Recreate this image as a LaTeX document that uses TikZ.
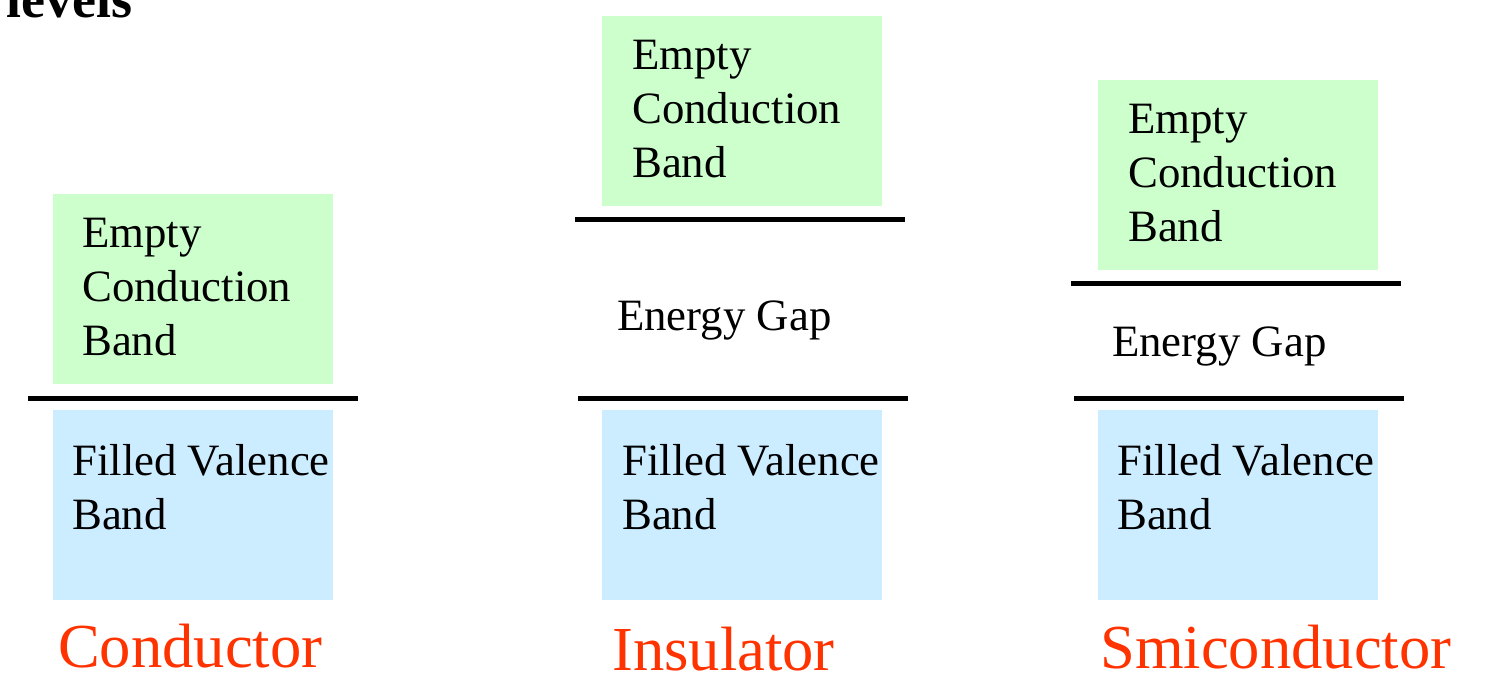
\documentclass[tikz,border=0pt]{standalone}
\usepackage{fontspec}
\setmainfont{Liberation Serif}
\usetikzlibrary{positioning}
\definecolor{condfill}{HTML}{CCFFCC}
\definecolor{valfill}{HTML}{CCECFF}
\definecolor{kindred}{HTML}{FF3300}
\tikzset{
  condband/.style = {rectangle, fill=condfill, minimum width=280pt, minimum height=190pt, inner sep=0pt},
  valband/.style  = {rectangle, fill=valfill, minimum width=280pt, minimum height=190pt, inner sep=0pt},
  bandtxt/.style  = {font=\fontsize{44.8}{54}\selectfont, align=left, inner sep=0pt, anchor=base west},
  kind/.style     = {font=\fontsize{62.6}{74}\selectfont, text=kindred, inner sep=0pt, anchor=base west},
  level/.style    = {line width=5pt},
}

\begin{document}
\begin{tikzpicture}[x=1pt, y=-1pt]
        \useasboundingbox (0,0) rectangle (1506,694);
        \node[font=\fontsize{54}{60}\selectfont\bfseries, inner sep=0pt, anchor=base west] (title) at (6,17) {levels};
        % conductor
        \node[condband] (ccond) at (193,289) {};
        \node[bandtxt] (ccondtxt) at (82,355) {Empty\\Conduction\\Band};
        \draw[level] (28,398) -- (358,398);
        \node[valband] (cval) at (193,505) {};
        \node[bandtxt] (cvaltxt) at (72,529) {Filled Valence\\Band};
        \node[kind] (ckind) at (58,667) {Conductor};
        % insulator
        \node[condband] (icond) at (742,111) {};
        \node[bandtxt] (icondtxt) at (632,177) {Empty\\Conduction\\Band};
        \draw[level] (575,219) -- (905,219);
        \node[bandtxt] (igap) at (617,330) {Energy Gap};
        \draw[level] (578,398) -- (908,398);
        \node[valband] (ival) at (742,505) {};
        \node[bandtxt] (ivaltxt) at (622,529) {Filled Valence\\Band};
        \node[kind] (ikind) at (612,670) {Insulator};
        % semiconductor
        \node[condband] (scond) at (1238,175) {};
        \node[bandtxt] (scondtxt) at (1128,241) {Empty\\Conduction\\Band};
        \draw[level] (1071,283) -- (1401,283);
        \node[bandtxt] (sgap) at (1112,356) {Energy Gap};
        \draw[level] (1074,398) -- (1404,398);
        \node[valband] (sval) at (1238,505) {};
        \node[bandtxt] (svaltxt) at (1117,529) {Filled Valence\\Band};
        \node[kind] (skind) at (1100,668) {Smiconductor};
    \end{tikzpicture}
\end{document}
